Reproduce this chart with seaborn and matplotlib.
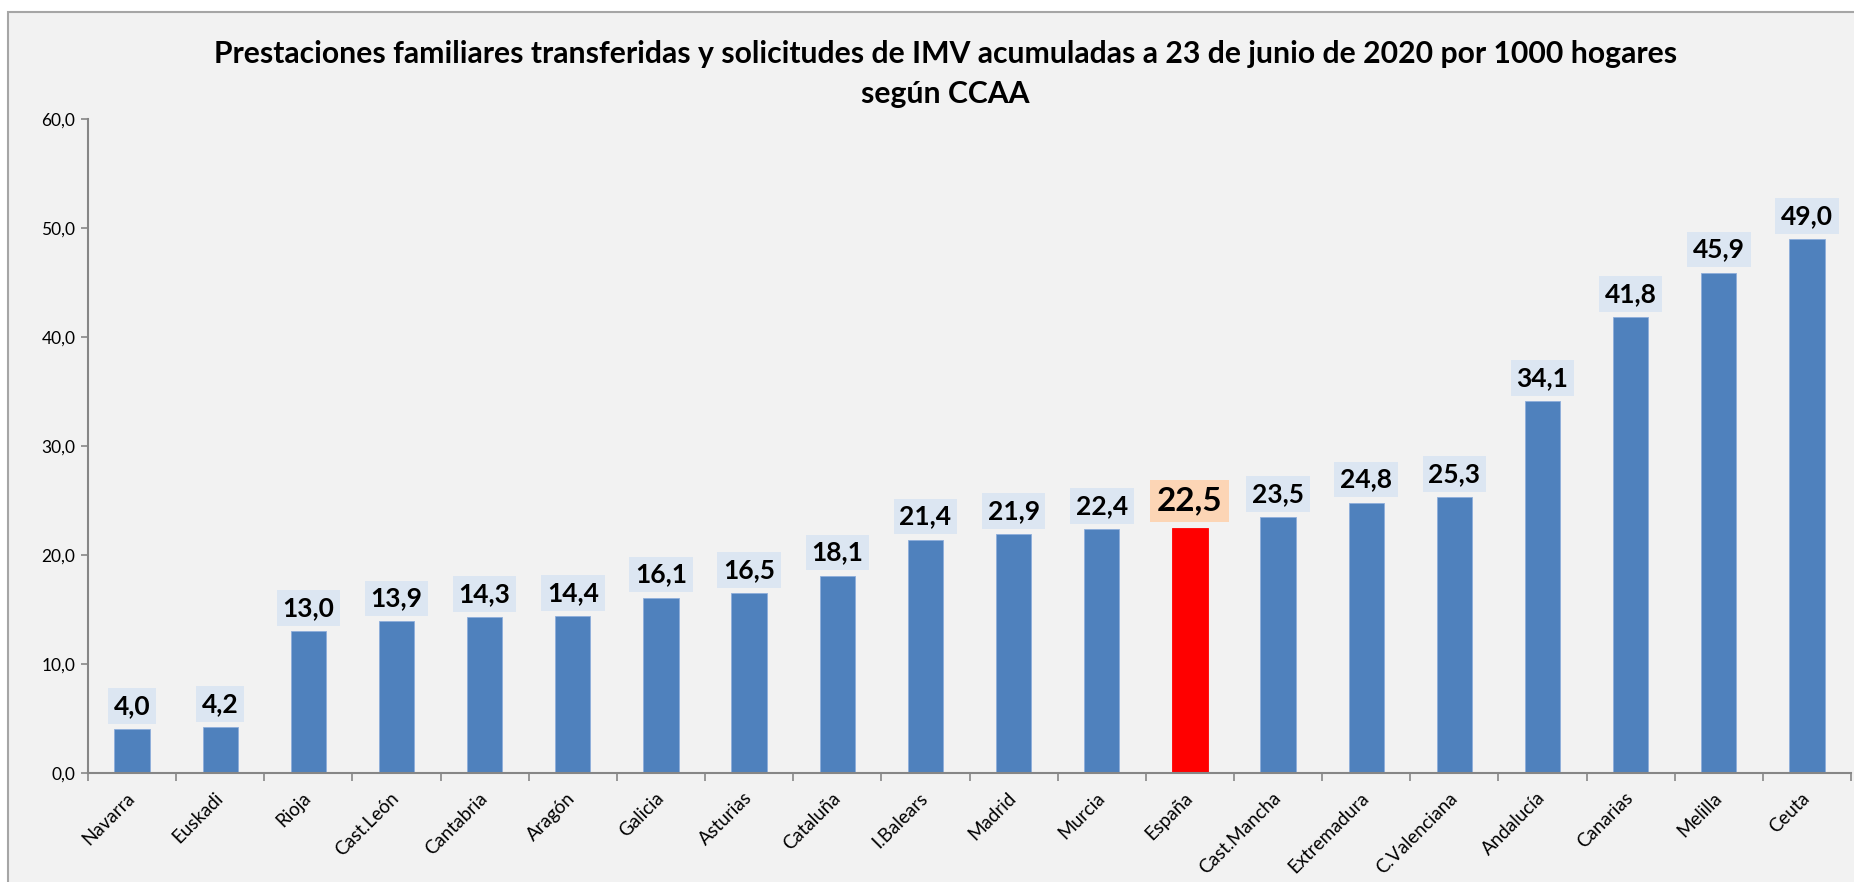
import matplotlib
matplotlib.use("Agg")
import matplotlib.pyplot as plt
import matplotlib.patches as mpatches
from matplotlib.ticker import MultipleLocator, FuncFormatter, FixedLocator
import seaborn as sns

# data
regiones = ["Navarra", "Euskadi", "Rioja", "Cast.León", "Cantabria", "Aragón",
            "Galicia", "Asturias", "Cataluña", "I.Balears", "Madrid", "Murcia",
            "España", "Cast.Mancha", "Extremadura", "C.Valenciana", "Andalucía",
            "Canarias", "Melilla", "Ceuta"]
valores = [4.0, 4.2, 13.0, 13.9, 14.3, 14.4, 16.1, 16.5, 18.1, 21.4, 21.9, 22.4,
           22.5, 23.5, 24.8, 25.3, 34.1, 41.8, 45.9, 49.0]
destacado = "España"

titulo1 = "Prestaciones familiares transferidas y solicitudes de IMV acumuladas a 23 de junio de 2020 por 1000 hogares"
titulo2 = "según CCAA"

azul = "#4f81bd"
rojo = "#ff0000"
fondo = "#f2f2f2"

sns.set_style("white")
plt.rcParams["font.family"] = ["Lato", "DejaVu Sans"]

fig = plt.figure(figsize=(18.54, 8.82), dpi=100)
fig.patch.set_facecolor("white")
# chart area with grey frame (cut at right/bottom like the original)
fig.patches.append(mpatches.Rectangle((8 / 1854, -0.05), 1.1, 1 - 12 / 882 + 0.05,
                                      transform=fig.transFigure, facecolor=fondo,
                                      edgecolor="#a6a6a6", linewidth=1.5, zorder=-10))

ax = fig.add_axes([88 / 1854, 1 - 773 / 882, (1851 - 88) / 1854, (773 - 119) / 882])
ax.set_facecolor(fondo)
ax.patch.set_alpha(0)

colores = [rojo if r == destacado else azul for r in regiones]
sns.barplot(x=regiones, y=valores, hue=regiones, palette=colores, legend=False,
            width=0.4, saturation=1, ax=ax, edgecolor="#8eaedb", linewidth=0.6)
for p, c in zip(ax.patches, colores):
    if c == rojo:
        p.set_edgecolor(rojo)

ax.set_ylim(0, 60)
ax.set_xlim(-0.5, len(regiones) - 0.5)
ax.yaxis.set_major_locator(MultipleLocator(10))
ax.yaxis.set_major_formatter(FuncFormatter(lambda v, _: f"{v:.1f}".replace(".", ",")))

for s in ["top", "right"]:
    ax.spines[s].set_visible(False)
for s in ["left", "bottom"]:
    ax.spines[s].set_color("#868686")
    ax.spines[s].set_linewidth(1.5)

ax.tick_params(axis="y", length=5, width=1.2, color="#868686", labelsize=12.5,
               labelcolor="black", pad=4, left=True)
ax.xaxis.set_minor_locator(FixedLocator([i - 0.5 for i in range(len(regiones) + 1)]))
ax.tick_params(axis="x", which="major", length=0, labelsize=13.5, labelcolor="black", pad=16)
ax.tick_params(axis="x", which="minor", length=6, width=1.2, color="#868686", bottom=True)
for lab in ax.get_xticklabels():
    lab.set_rotation(45)
    lab.set_ha("right")
    lab.set_va("center")
    lab.set_rotation_mode("anchor")
ax.set_xlabel("")
ax.set_ylabel("")

# value labels in boxes
for i, (r, v) in enumerate(zip(regiones, valores)):
    txt = f"{v:.1f}".replace(".", ",")
    if r == destacado:
        ax.annotate(txt, xy=(i, v), xytext=(0, 9), textcoords="offset points",
                    ha="center", va="bottom", fontsize=24, fontweight="bold",
                    color="black",
                    bbox=dict(boxstyle="square,pad=0.2", fc="#fcd5b5", ec="none"))
    else:
        ax.annotate(txt, xy=(i, v), xytext=(0, 8), textcoords="offset points",
                    ha="center", va="bottom", fontsize=19, fontweight="bold",
                    color="black",
                    bbox=dict(boxstyle="square,pad=0.22", fc="#dce6f2", ec="none"))

fig.text(0.510, 1 - 63 / 882, titulo1, ha="center", va="baseline",
         fontsize=21.7, fontweight="bold", color="black")
fig.text(0.510, 1 - 103 / 882, titulo2, ha="center", va="baseline",
         fontsize=21.7, fontweight="bold", color="black")

fig.savefig("out.png", dpi=100, facecolor=fig.get_facecolor())
